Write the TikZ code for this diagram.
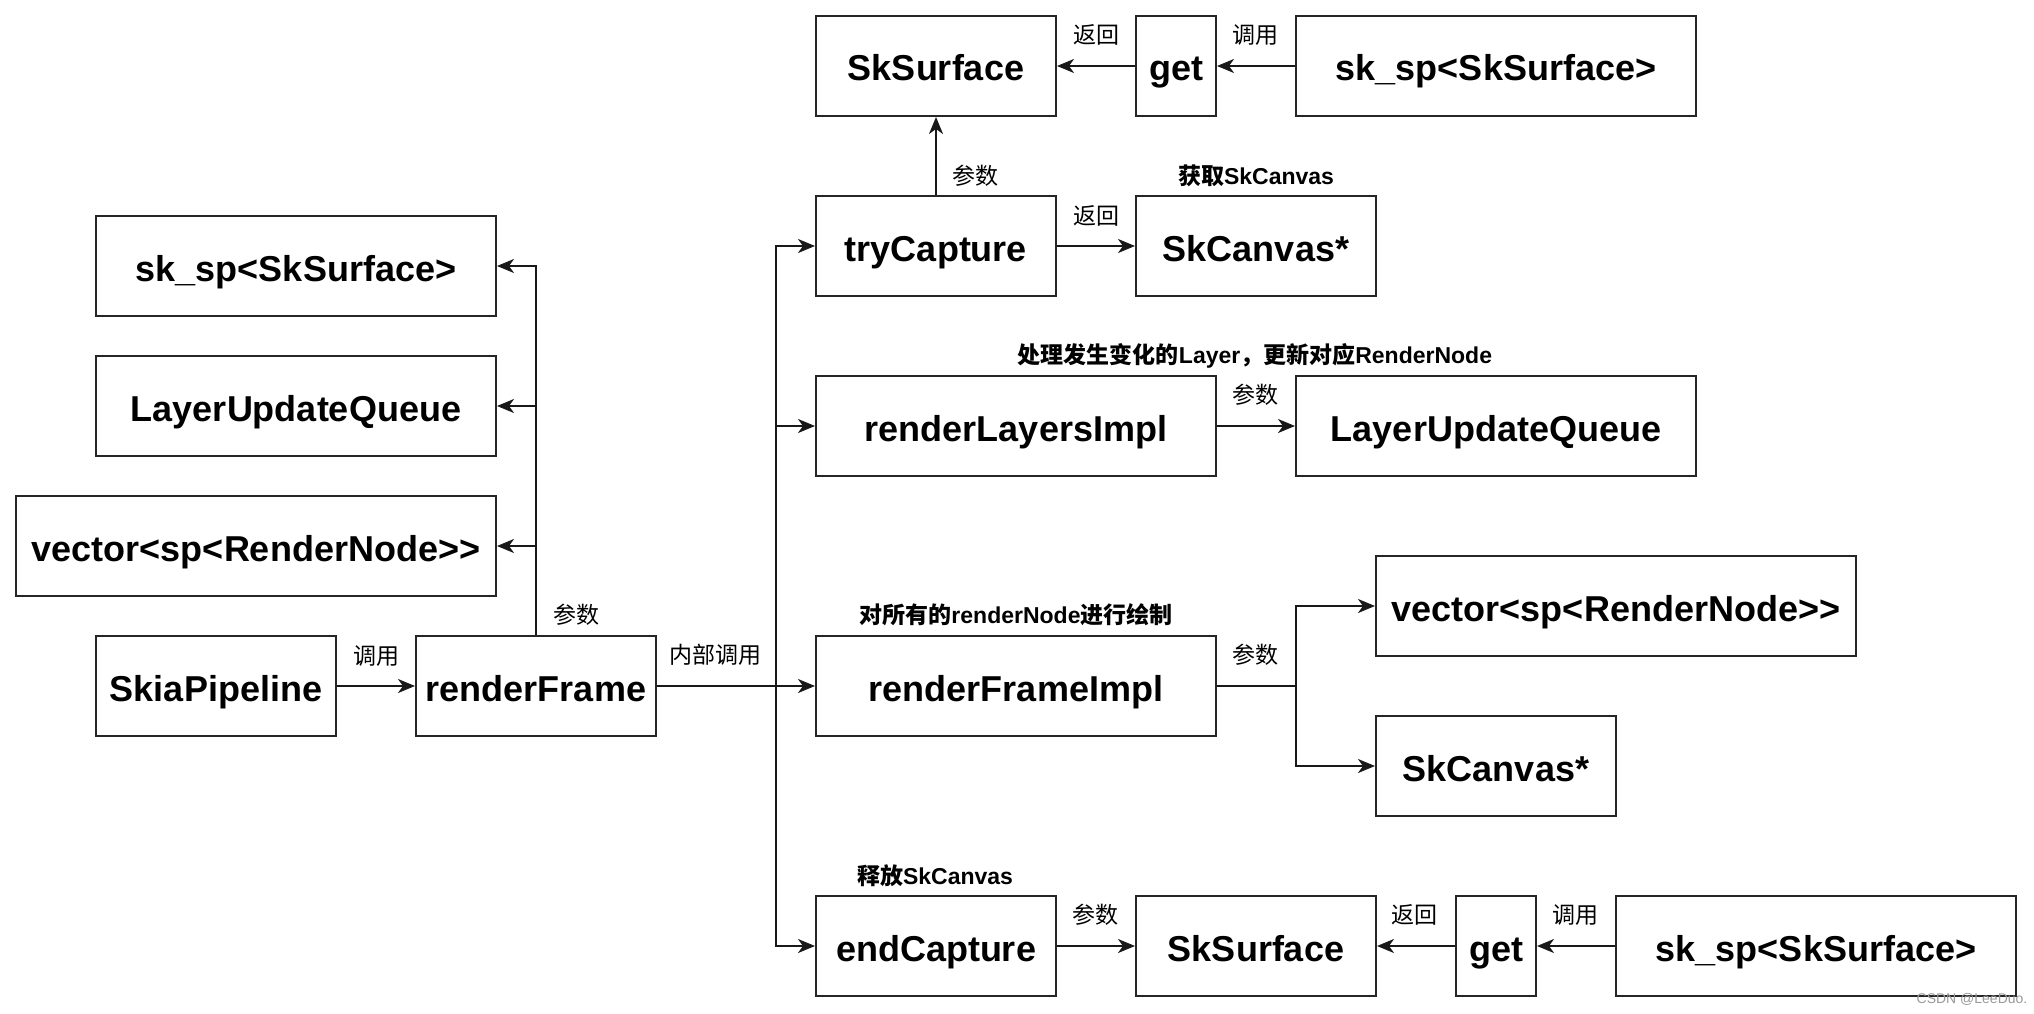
\documentclass[tikz,border=0pt]{standalone}
\usepackage{fontspec}
\setmainfont{Liberation Sans}
\newfontfamily\cjk{Noto Sans CJK SC}
\usetikzlibrary{arrows.meta}
\begin{document}
\begin{tikzpicture}[x=1pt,y=-1pt,
  box/.style={draw=black!85, line width=2pt, minimum height=100pt, inner sep=0pt,
    text height=34pt, text depth=4pt,
    font=\fontsize{36}{40}\selectfont\bfseries, text=black},
  arr/.style={line width=2pt, draw=black!90, -{Stealth[length=17pt,width=14pt,inset=5pt]}},
  lnk/.style={line width=2pt, draw=black!90},
  lab/.style={font=\fontsize{23}{26}\selectfont\cjk, inner sep=0pt},
  blab/.style={font=\fontsize{23}{26}\selectfont\bfseries, inner sep=0pt}]
\useasboundingbox (0,0) rectangle (2034,1014);
\fill[white] (0,0) rectangle (2034,1014);

% left column
\node[box, minimum width=400pt] (skL)  at (296,266) {sk\_sp<SkSurface>};
\node[box, minimum width=400pt] (luqL) at (296,406) {LayerUpdateQueue};
\node[box, minimum width=480pt] (vecL) at (256,546) {vector<sp<RenderNode>\kern0pt>};
\node[box, minimum width=240pt] (skia) at (216,686) {SkiaPipeline};
\node[box, minimum width=240pt] (rf)   at (536,686) {renderFrame};

% top
\node[box, minimum width=240pt] (sfT)  at (936,66)  {SkSurface};
\node[box, minimum width=80pt]  (getT) at (1176,66) {get};
\node[box, minimum width=400pt] (spT)  at (1496,66) {sk\_sp<SkSurface>};
\node[box, minimum width=240pt] (tryC) at (936,246) {tryCapture};
\node[box, minimum width=240pt] (cvT)  at (1256,246) {SkCanvas*};

% middle
\node[box, minimum width=400pt] (rli)  at (1016,426) {renderLayersImpl};
\node[box, minimum width=400pt] (luqR) at (1496,426) {LayerUpdateQueue};
\node[box, minimum width=400pt] (rfi)  at (1016,686) {renderFrameImpl};
\node[box, minimum width=480pt] (vecR) at (1616,606) {vector<sp<RenderNode>\kern0pt>};
\node[box, minimum width=240pt] (cvR)  at (1496,766) {SkCanvas*};

% bottom
\node[box, minimum width=240pt] (endC) at (936,946)  {endCapture};
\node[box, minimum width=240pt] (sfB)  at (1256,946) {SkSurface};
\node[box, minimum width=80pt]  (getB) at (1496,946) {get};
\node[box, minimum width=400pt] (spB)  at (1816,946) {sk\_sp<SkSurface>};

% junctions
\coordinate (tk) at (776,686);
\coordinate (br) at (1296,686);

% connectors
\draw[arr] (skia.east) -- (rf.west);
\draw[arr] (rf.north) |- (skL.east);
\draw[arr] (rf.north) |- (luqL.east);
\draw[arr] (rf.north) |- (vecL.east);
\draw[arr] (rf.east) -- (rfi.west);
\draw[arr] (tk) |- (tryC.west);
\draw[arr] (tk) |- (rli.west);
\draw[arr] (tk) |- (endC.west);
\draw[arr] (tryC.north) -- (sfT.south);
\draw[arr] (getT.west) -- (sfT.east);
\draw[arr] (spT.west) -- (getT.east);
\draw[arr] (tryC.east) -- (cvT.west);
\draw[arr] (rli.east) -- (luqR.west);
\draw[lnk] (rfi.east) -- (br);
\draw[arr] (br) |- (vecR.west);
\draw[arr] (br) |- (cvR.west);
\draw[arr] (endC.east) -- (sfB.west);
\draw[arr] (getB.west) -- (sfB.east);
\draw[arr] (spB.west) -- (getB.east);

% labels
\node[lab] (l1)  at (376,656)  {调用};
\node[lab] (l2)  at (576,615)  {参数};
\node[lab] (l3)  at (715,655)  {内部调用};
\node[lab] (l4)  at (975,176)  {参数};
\node[lab] (l5)  at (1096,35)  {返回};
\node[lab] (l6)  at (1255,35)  {调用};
\node[blab] (l7) at (1256,176) {{\cjk 获取}SkCanvas};
\node[lab] (l8)  at (1096,216) {返回};
\node[blab] (l9) at (1255,356) {{\cjk 处理发生变化的}Layer{\cjk ，更新对应}RenderNode};
\node[lab] (l10) at (1255,395) {参数};
\node[blab] (l11) at (1016,615) {{\cjk 对所有的}renderNode{\cjk 进行绘制}};
\node[lab] (l12) at (1255,655) {参数};
\node[blab] (l13) at (935,876) {{\cjk 释放}SkCanvas};
\node[lab] (l14) at (1095,915) {参数};
\node[lab] (l15) at (1414,915) {返回};
\node[lab] (l16) at (1575,915) {调用};
\node[font=\fontsize{14}{16}\selectfont, text=black!40, inner sep=0pt] (wm) at (1972,999) {CSDN @LeeDuo.};
\end{tikzpicture}
\end{document}
